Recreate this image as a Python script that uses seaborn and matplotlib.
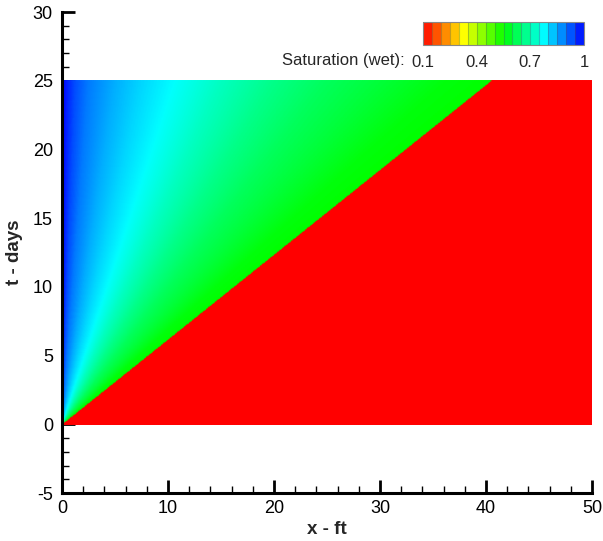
import numpy as np
import matplotlib
matplotlib.use("Agg")
import matplotlib.pyplot as plt
import seaborn as sns
from matplotlib.colors import LinearSegmentedColormap, ListedColormap, BoundaryNorm
from matplotlib.ticker import MultipleLocator
import matplotlib.cm as cm

# Saturation vs. similarity variable xi = x / t (ft/day)
xi_profile = [0.0, 0.02, 0.05, 0.1, 0.2, 0.3, 0.42, 0.6, 0.8, 1.0, 1.2, 1.45, 1.62]
sat_profile = [1.0, 0.97, 0.93, 0.89, 0.845, 0.81, 0.775, 0.72, 0.67, 0.63, 0.60, 0.56, 0.55]
sat_initial = 0.1          # ahead of the front
x_nodes = np.linspace(0, 50, 801)
t_nodes = np.linspace(0, 25, 401)

cbar_ticks = [0.1, 0.4, 0.7, 1.0]
cbar_labels = ["0.1", "0.4", "0.7", "1"]
cbar_levels = np.linspace(0.1, 1.0, 19)

sns.set_theme(style="ticks")
plt.rcParams["font.family"] = ["Liberation Sans", "DejaVu Sans"]
plt.rcParams["axes.unicode_minus"] = False

rainbow = LinearSegmentedColormap.from_list(
    "small_rainbow", ["#ff0000", "#ffff00", "#00ff00", "#00ffff", "#0000ff"])

# saturation field from the self-similar profile
X, T = np.meshgrid(x_nodes, t_nodes)
xi = np.where(T > 0, X / np.maximum(T, 1e-9), np.where(X > 0, 1e9, 0.0))
S = np.interp(xi, xi_profile, sat_profile)
S = np.where(xi > xi_profile[-1], sat_initial, S)

fig = plt.figure(figsize=(6.03, 5.41), dpi=100)
ax = fig.add_axes([0.1028, 0.0887, 0.8790, 0.8891])

ax.pcolormesh(X, T, S, cmap=rainbow, vmin=0.1, vmax=1.0, shading="gouraud")

ax.set_xlim(0, 50)
ax.set_ylim(-5, 30)
ax.xaxis.set_major_locator(MultipleLocator(10))
ax.xaxis.set_minor_locator(MultipleLocator(2))
ax.yaxis.set_major_locator(MultipleLocator(5))
ax.yaxis.set_minor_locator(MultipleLocator(1))
ax.tick_params(which="major", direction="in", length=9.5, width=2, labelsize=13,
               color="black", labelcolor="black")
ax.tick_params(which="minor", direction="in", length=5, width=1, color="black")
ax.tick_params(axis="y", which="major", pad=6.5)
ax.tick_params(axis="x", which="major", pad=5)

for side in ["top", "right"]:
    ax.spines[side].set_visible(False)
for side in ["left", "bottom"]:
    ax.spines[side].set_linewidth(2.2)
    ax.spines[side].set_color("black")
ax.set_facecolor("white")

ax.set_xlabel("x - ft", fontsize=13.5, fontweight="bold", labelpad=3)
ax.set_ylabel("t - days", fontsize=13.5, fontweight="bold", labelpad=7)

# discrete legend bar
mids = (cbar_levels[:-1] + cbar_levels[1:]) / 2
seg_cmap = ListedColormap(rainbow((mids - 0.1) / 0.9))
norm = BoundaryNorm(cbar_levels, seg_cmap.N)
cax = fig.add_axes([423 / 603, 1 - 45 / 541, 161 / 603, 23 / 541])
cb = fig.colorbar(cm.ScalarMappable(norm=norm, cmap=seg_cmap), cax=cax,
                  orientation="horizontal", drawedges=True, ticks=cbar_ticks)
cb.set_ticklabels(cbar_labels)
cax.minorticks_off()
cb.outline.set_edgecolor("#888888")
cb.outline.set_linewidth(0.8)
cb.dividers.set_color("#555555")
cb.dividers.set_alpha(0.35)
cb.dividers.set_linewidth(0.8)
cax.tick_params(length=0, labelsize=12, pad=7)
fig.text(405 / 603, 1 - 61 / 541, "Saturation (wet):", fontsize=12,
         ha="right", va="center")

plt.savefig("out.png", dpi=100)
